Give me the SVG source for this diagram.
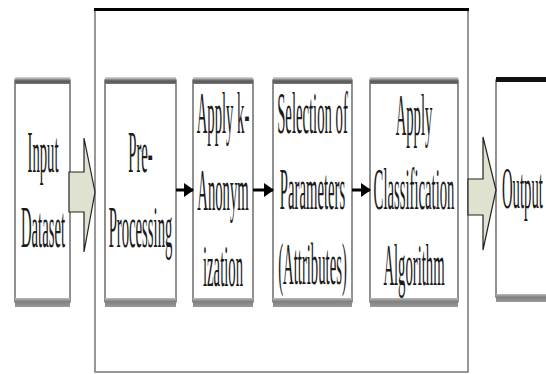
<svg xmlns="http://www.w3.org/2000/svg" width="546" height="374" viewBox="0 0 546 374">
<defs>
<linearGradient id="topbar" x1="0" y1="0" x2="0" y2="1">
<stop offset="0" stop-color="#e0e0e0"/>
<stop offset="0.6" stop-color="#555"/>
<stop offset="1" stop-color="#777"/>
</linearGradient>
<linearGradient id="botbar" x1="0" y1="0" x2="0" y2="1">
<stop offset="0" stop-color="#bbb"/>
<stop offset="0.4" stop-color="#808080"/>
<stop offset="1" stop-color="#999"/>
</linearGradient>
<marker id="ah" markerUnits="userSpaceOnUse" markerWidth="10" markerHeight="14" refX="9" refY="7" orient="auto">
<path d="M0,0 L10,7 L0,14 z" fill="#000"/>
</marker>
</defs>
<style>
.box{fill:#fff;stroke:#555;stroke-width:1.3}
.tb{fill:url(#topbar)}
.bb{fill:url(#botbar)}
.t{font-family:"Liberation Serif","Times New Roman",serif;font-size:60px;fill:#1a1a1a;text-anchor:middle}
.big{fill:#dfe2cf;stroke:#222;stroke-width:1.2;stroke-linejoin:miter}
.ln{stroke:#000;stroke-width:3;fill:none}
</style>
<g id="container">
<rect x="95" y="10" width="373" height="362" fill="#fff" stroke="#777" stroke-width="1.5"/>
<rect x="94" y="8" width="375" height="3" fill="#000"/>
</g>
<g id="input">
<rect class="box" x="15" y="80" width="55" height="222"/>
<rect class="tb" x="15" y="77" width="55" height="7"/>
<rect class="bb" x="15" y="298" width="55" height="9"/>
<text class="t" transform="translate(43,172) scale(0.245,1)">Input</text>
<text class="t" transform="translate(43,247) scale(0.245,1)">Dataset</text>
</g>
<g id="preprocessing">
<rect class="box" x="105" y="80" width="71" height="222"/>
<rect class="tb" x="105" y="77" width="71" height="7"/>
<rect class="bb" x="105" y="298" width="71" height="9"/>
<text class="t" transform="translate(140.5,172) scale(0.245,1)">Pre-</text>
<text class="t" transform="translate(140.5,247) scale(0.245,1)">Processing</text>
</g>
<g id="anonymization">
<rect class="box" x="193" y="80" width="60" height="222"/>
<rect class="tb" x="193" y="77" width="60" height="7"/>
<rect class="bb" x="193" y="298" width="60" height="9"/>
<text class="t" transform="translate(223,133) scale(0.245,1)">Apply k-</text>
<text class="t" transform="translate(223,210) scale(0.245,1)">Anonym</text>
<text class="t" transform="translate(223,286) scale(0.245,1)">ization</text>
</g>
<g id="selection">
<rect class="box" x="273" y="80" width="79" height="222"/>
<rect class="tb" x="273" y="77" width="79" height="7"/>
<rect class="bb" x="273" y="298" width="79" height="9"/>
<text class="t" transform="translate(312.5,133) scale(0.245,1)">Selection of</text>
<text class="t" transform="translate(312.5,209) scale(0.245,1)">Parameters</text>
<text class="t" transform="translate(312.5,284) scale(0.245,1)">(Attributes)</text>
</g>
<g id="classification">
<rect class="box" x="370" y="80" width="88" height="222"/>
<rect class="tb" x="370" y="77" width="88" height="7"/>
<rect class="bb" x="370" y="298" width="88" height="9"/>
<text class="t" transform="translate(414,135) scale(0.245,1)">Apply</text>
<text class="t" transform="translate(414,209) scale(0.245,1)">Classification</text>
<text class="t" transform="translate(414,285) scale(0.245,1)">Algorithm</text>
</g>
<g id="output">
<rect class="box" x="496" y="80" width="60" height="217"/>
<rect x="496" y="77" width="60" height="5" fill="#111"/>
<rect class="bb" x="496" y="294" width="60" height="8"/>
<text class="t" style="text-anchor:start" transform="translate(502,208) scale(0.245,1)">Output</text>
</g>
<g id="connectors">
<polygon class="big" points="69,172 84,172 84,138 95,192 84,252 84,212 69,212"/>
<polygon class="big" points="468,179 483,179 483,137 496,190 483,250 483,215 468,215"/>
<line class="ln" x1="176" y1="190" x2="193" y2="190" marker-end="url(#ah)"/>
<line class="ln" x1="253" y1="190" x2="273" y2="190" marker-end="url(#ah)"/>
<line class="ln" x1="352" y1="190" x2="370" y2="190" marker-end="url(#ah)"/>
</g>
</svg>
